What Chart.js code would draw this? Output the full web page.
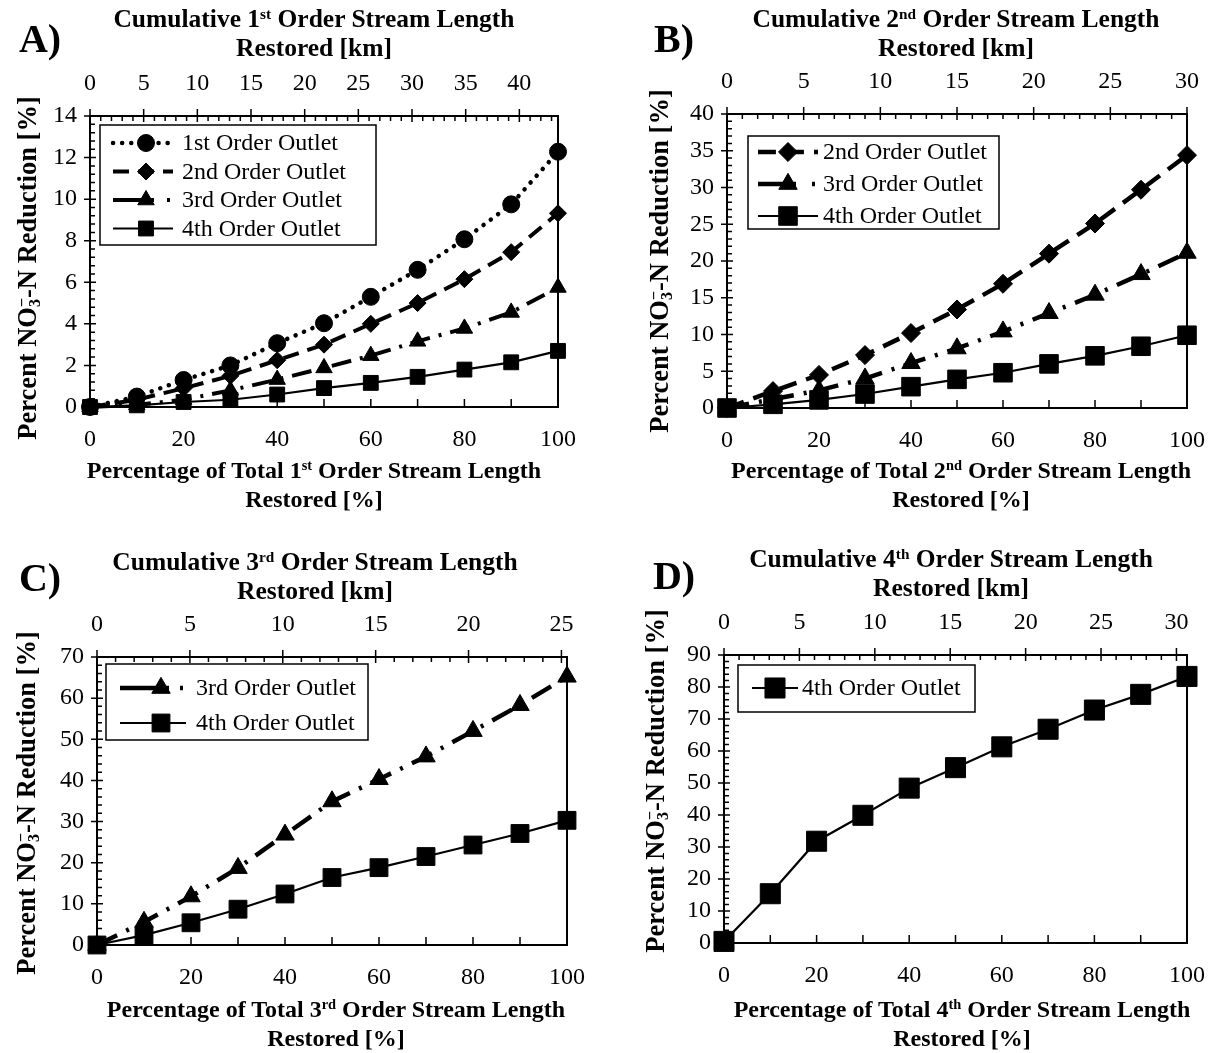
<!DOCTYPE html>
<html>
<head>
<meta charset="utf-8">
<script src="https://cdn.jsdelivr.net/npm/chart.js@4.4.1/dist/chart.umd.min.js"></script>
<style>
  body { margin: 0; background: #fff; }
  #page { position: relative; width: 1223px; height: 1053px; overflow: hidden;
          font-family: 'Liberation Serif', 'Times New Roman', serif; color: #000; }
  canvas { position: absolute; }
  .ttl { position: absolute; font-weight: bold; font-size: 24px; line-height: 29px; text-align: center;
         white-space: nowrap; transform: translateX(-50%); }
  .ttl.top { font-size: 25.5px; }
  .ytl { position: absolute; font-weight: bold; font-size: 26.5px; line-height: 30px; white-space: nowrap;
         transform: translate(-50%, -50%) rotate(-90deg); }
  .lbl { position: absolute; font-weight: bold; font-size: 40px; line-height: 1; transform: translate(-50%, -50%); }
  sup { font-size: 0.6em; vertical-align: 0.55em; line-height: 0; }
  sub { font-size: 0.6em; vertical-align: -0.25em; line-height: 0; }
  .ov { margin-left: -0.5em; }
</style>
</head>
<body>
<div id="page">
  <canvas id="cA" width="611" height="526" style="left:0;top:0"></canvas>
  <canvas id="cB" width="612" height="526" style="left:611px;top:0"></canvas>
  <canvas id="cC" width="611" height="527" style="left:0;top:526px"></canvas>
  <canvas id="cD" width="612" height="527" style="left:611px;top:526px"></canvas>

  <div class="lbl" style="left:40px;top:39px">A)</div>
  <div class="ttl top" style="left:314px;top:4px">Cumulative 1<sup>st</sup> Order Stream Length<br>Restored [km]</div>
  <div class="ttl" style="left:314px;top:456px">Percentage of Total 1<sup>st</sup> Order Stream Length<br>Restored [%]</div>
  <div class="ytl" style="left:27px;top:268px">Percent NO<sub>3</sub><sup class="ov">−</sup>-N Reduction [%]</div>

  <div class="lbl" style="left:674px;top:39px">B)</div>
  <div class="ttl top" style="left:956px;top:4px">Cumulative 2<sup>nd</sup> Order Stream Length<br>Restored [km]</div>
  <div class="ttl" style="left:961px;top:456px">Percentage of Total 2<sup>nd</sup> Order Stream Length<br>Restored [%]</div>
  <div class="ytl" style="left:659px;top:261px">Percent NO<sub>3</sub><sup class="ov">−</sup>-N Reduction [%]</div>

  <div class="lbl" style="left:40px;top:578px">C)</div>
  <div class="ttl top" style="left:315px;top:547px">Cumulative 3<sup>rd</sup> Order Stream Length<br>Restored [km]</div>
  <div class="ttl" style="left:336px;top:995px">Percentage of Total 3<sup>rd</sup> Order Stream Length<br>Restored [%]</div>
  <div class="ytl" style="left:26px;top:803px">Percent NO<sub>3</sub><sup class="ov">−</sup>-N Reduction [%]</div>

  <div class="lbl" style="left:674px;top:576px">D)</div>
  <div class="ttl top" style="left:951px;top:544px">Cumulative 4<sup>th</sup> Order Stream Length<br>Restored [km]</div>
  <div class="ttl" style="left:962px;top:995px">Percentage of Total 4<sup>th</sup> Order Stream Length<br>Restored [%]</div>
  <div class="ytl" style="left:655px;top:781px">Percent NO<sub>3</sub><sup class="ov">−</sup>-N Reduction [%]</div>
</div>

<script>
// ─── Data ─────────────────────────────────────────────────────────────────────
const pctRestored = [0, 10, 20, 30, 40, 50, 60, 70, 80, 90, 100];
const pctTicks = [0, 20, 40, 60, 80, 100];
const pctMinor = [0, 10, 20, 30, 40, 50, 60, 70, 80, 90, 100];

// A) 1st order streams restored
const a1st = [0, 0.5, 1.3, 2.0, 3.07, 4.03, 5.3, 6.6, 8.07, 9.75, 12.28];
const a2nd = [0, 0.35, 0.9, 1.5, 2.25, 3.0, 4.0, 5.0, 6.15, 7.45, 9.32];
const a3rd = [0, 0.1, 0.35, 0.8, 1.32, 1.88, 2.47, 3.16, 3.78, 4.55, 5.75];
const a4th = [0, 0.08, 0.24, 0.35, 0.6, 0.91, 1.16, 1.45, 1.8, 2.15, 2.7];
const yTicksA = [0, 2, 4, 6, 8, 10, 12, 14];
const kmTicksA = [0, 5, 10, 15, 20, 25, 30, 35, 40];
const kmMaxA = 43.6;

// B) 2nd order streams restored
const b2nd = [0, 2.3, 4.5, 7.2, 10.2, 13.4, 16.9, 21.0, 25.1, 29.7, 34.4];
const b3rd = [0, 1.2, 2.4, 4.0, 6.1, 8.1, 10.4, 12.9, 15.4, 18.2, 21.1];
const b4th = [0, 0.5, 1.1, 1.9, 2.9, 3.9, 4.8, 6.0, 7.1, 8.4, 9.9];
const yTicksB = [0, 5, 10, 15, 20, 25, 30, 35, 40];
const kmTicksB = [0, 5, 10, 15, 20, 25, 30];
const kmMaxB = 30;

// C) 3rd order streams restored
const c3rd = [0, 5.6, 11.8, 18.7, 26.8, 34.9, 40.3, 45.8, 52.0, 58.3, 65.2];
const c4th = [0, 2.4, 5.4, 8.7, 12.4, 16.4, 18.8, 21.5, 24.3, 27.1, 30.3];
const yTicksC = [0, 10, 20, 30, 40, 50, 60, 70];
const kmTicksC = [0, 5, 10, 15, 20, 25];
const kmMaxC = 25.3;

// D) 4th order streams restored
const d4th = [0.5, 15.4, 31.8, 39.9, 48.4, 54.8, 61.3, 66.8, 72.8, 77.7, 83.3];
const yTicksD = [0, 10, 20, 30, 40, 50, 60, 70, 80, 90];
const kmTicksD = [0, 5, 10, 15, 20, 25, 30];
const kmMaxD = 30.7;

// ─── Styles ───────────────────────────────────────────────────────────────────
Chart.defaults.color = '#000';
Chart.defaults.font.family = "'Liberation Serif', 'Times New Roman', serif";
const TICK_FONT = { size: 24 };

const pts = vals => pctRestored.map((x, i) => ({ x, y: vals[i] }));

function series(label, vals, kind, size) {
  const base = {
    label, data: pts(vals), clip: false, fill: false, tension: 0, kind,
    borderColor: '#000', backgroundColor: '#000',
    pointBackgroundColor: '#000', pointBorderColor: '#000', pointBorderWidth: 1,
  };
  const k = size || 1;
  if (kind === 1) return { ...base, borderWidth: 4.5, borderDash: [0.1, 9], borderCapStyle: 'round', pointStyle: 'circle', pointRadius: 8.5 * k };
  if (kind === 2) return { ...base, borderWidth: 4 * k, borderDash: [16 * k, 9 * k], pointStyle: 'rectRot', pointRadius: 8.5 * k };
  if (kind === 3) return { ...base, borderWidth: 4 * k, borderDash: [20 * k, 9 * k, 3, 9 * k], pointStyle: 'triangle', pointRadius: 9.5 * k };
  return { ...base, borderWidth: 2.2, pointStyle: 'rect', pointRadius: 10.5 * k };
}

// frame, Excel-like tick marks and the legend box
const frameTicks = {
  id: 'frameTicks',
  beforeDatasetsDraw(chart, args, o) {
    const { ctx, chartArea: a, scales } = chart;
    ctx.save();
    ctx.strokeStyle = '#000';
    ctx.lineWidth = 2;
    ctx.strokeRect(a.left, a.top, a.width, a.height);
    ctx.lineWidth = 1.5;
    ctx.beginPath();
    pctMinor.forEach(v => {
      const px = scales.x.getPixelForValue(v);
      ctx.moveTo(px, a.bottom); ctx.lineTo(px, a.bottom - 8);
    });
    const nY = Math.round(o.yMax / o.yMinor);
    for (let i = 0; i <= nY; i++) {
      const py = scales.y.getPixelForValue(i * o.yMinor);
      const major = i % 5 === 0;
      ctx.moveTo(a.left - (major ? 6 : 0), py); ctx.lineTo(a.left + (major ? 6 : 5), py);
    }
    for (let k = 0; k <= o.kmMax; k++) {
      const px = scales.x2.getPixelForValue(k);
      const major = k % 5 === 0;
      ctx.moveTo(px, a.top - (major ? 7 : 0)); ctx.lineTo(px, a.top + (major ? 6 : 5));
    }
    ctx.stroke();
    ctx.restore();
  },
  afterDraw(chart, args, o) {
    const L = o.legend;
    const { ctx, chartArea: a } = chart;
    const x = a.left + L.x, y = a.top + L.y;
    ctx.save();
    ctx.fillStyle = '#fff';
    ctx.fillRect(x, y, L.w, L.h);
    ctx.strokeStyle = '#000';
    ctx.fillStyle = '#000';
    ctx.lineWidth = 1.5;
    ctx.strokeRect(x, y, L.w, L.h);
    ctx.font = "24px 'Liberation Serif', 'Times New Roman', serif";
    ctx.textBaseline = 'middle';
    chart.data.datasets.forEach((ds, i) => {
      const cy = y + L.first + i * L.gap;
      // dash-dot sample reads "dash, marker, dot" as in Excel
      const dash = ds.kind === 3 ? [L.m - L.s0 + 8, L.s1 - L.m - 14, 3, 200] : (ds.borderDash || []);
      ctx.setLineDash(dash);
      ctx.lineCap = ds.borderCapStyle || 'butt';
      ctx.lineWidth = ds.borderWidth;
      ctx.beginPath(); ctx.moveTo(x + L.s0, cy); ctx.lineTo(x + L.s1, cy); ctx.stroke();
      ctx.setLineDash([]);
      ctx.lineCap = 'butt';
      ctx.lineWidth = 1;
      Chart.helpers.drawPoint(ctx, { pointStyle: ds.pointStyle, radius: ds.pointRadius, rotation: 0, borderWidth: 1 }, x + L.m, cy);
      ctx.fillText(ds.label, x + L.t, cy + 1);
    });
    ctx.restore();
  },
};

// geometry: canvas box and the plot area inside the page
function makeChart(id, canvasBox, area, datasets, yTicks, yMinor, kmTicks, kmMax, legend) {
  const Y_W = 60, X_H = 45;
  new Chart(document.getElementById(id), {
    type: 'line',
    data: { datasets },
    plugins: [frameTicks],
    options: {
      responsive: false,
      animation: false,
      layout: {
        padding: {
          left: area.left - canvasBox.left - Y_W,
          top: area.top - canvasBox.top - X_H,
          right: canvasBox.left + canvasBox.w - area.right,
          bottom: canvasBox.top + canvasBox.h - area.bottom - X_H,
        },
      },
      plugins: {
        legend: { display: false },
        tooltip: { enabled: false },
        frameTicks: { yMax: yTicks[yTicks.length - 1], yMinor, kmMax, legend },
      },
      scales: {
        x: {
          type: 'linear', position: 'bottom', min: 0, max: 100,
          grid: { display: false, drawTicks: false }, border: { display: false },
          afterBuildTicks: s => { s.ticks = pctTicks.map(value => ({ value })); },
          afterFit: s => { s.height = X_H; },
          ticks: { font: TICK_FONT, padding: 18, maxRotation: 0, autoSkip: false },
        },
        x2: {
          type: 'linear', position: 'top', min: 0, max: kmMax,
          grid: { display: false, drawTicks: false }, border: { display: false },
          afterBuildTicks: s => { s.ticks = kmTicks.map(value => ({ value })); },
          afterFit: s => { s.height = X_H; },
          ticks: { font: TICK_FONT, padding: 18, maxRotation: 0, autoSkip: false },
        },
        y: {
          type: 'linear', position: 'left', min: 0, max: yTicks[yTicks.length - 1],
          grid: { display: false, drawTicks: false }, border: { display: false },
          afterBuildTicks: s => { s.ticks = yTicks.map(value => ({ value })); },
          afterFit: s => { s.width = Y_W; },
          ticks: { font: TICK_FONT, padding: 13, autoSkip: false },
        },
      },
    },
  });
}

makeChart('cA', { left: 0, top: 0, w: 611, h: 526 }, { left: 90, right: 558, top: 116, bottom: 407 },
  [series('1st Order Outlet', a1st, 1), series('2nd Order Outlet', a2nd, 2),
   series('3rd Order Outlet', a3rd, 3), series('4th Order Outlet', a4th, 4)],
  yTicksA, 0.4, kmTicksA, kmMaxA,
  { x: 10, y: 9, w: 276, h: 120, first: 18, gap: 28.5, s0: 13, s1: 73, m: 46, t: 82 });

makeChart('cB', { left: 611, top: 0, w: 612, h: 526 }, { left: 727, right: 1196, top: 114, bottom: 408 },
  [series('2nd Order Outlet', b2nd, 2, 1.12), series('3rd Order Outlet', b3rd, 3, 1.12),
   series('4th Order Outlet', b4th, 4, 1.25)],
  yTicksB, 1, kmTicksB, kmMaxB,
  { x: 21, y: 22, w: 251, h: 93, first: 16, gap: 32, s0: 10, s1: 70, m: 40, t: 75 });

makeChart('cC', { left: 0, top: 526, w: 611, h: 527 }, { left: 97, right: 567, top: 657, bottom: 945 },
  [series('3rd Order Outlet', c3rd, 3, 1.12), series('4th Order Outlet', c4th, 4, 1.2)],
  yTicksC, 2, kmTicksC, kmMaxC,
  { x: 9, y: 7, w: 262, h: 76, first: 24, gap: 35, s0: 14, s1: 80, m: 55, t: 90 });

makeChart('cD', { left: 611, top: 526, w: 612, h: 527 }, { left: 724, right: 1196, top: 655, bottom: 943 },
  [series('4th Order Outlet', d4th, 4, 1.35)],
  yTicksD, 2, kmTicksD, kmMaxD,
  { x: 14, y: 10, w: 237, h: 47, first: 23, gap: 30, s0: 14, s1: 60, m: 37, t: 64 });
</script>
</body>
</html>
